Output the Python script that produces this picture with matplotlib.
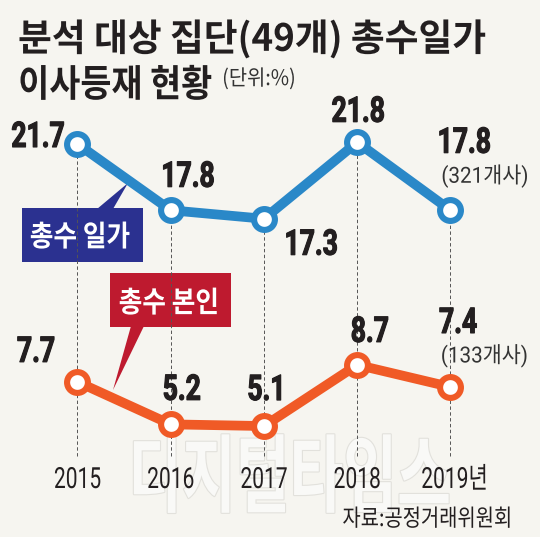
import matplotlib
matplotlib.use('Agg')
import matplotlib.pyplot as plt
import matplotlib.patheffects as pe
from matplotlib.patches import Polygon, Rectangle
from matplotlib.transforms import Affine2D, blended_transform_factory

# data
years = [2015, 2016, 2017, 2018, 2019]
year_labels = ['2015', '2016', '2017', '2018', '2019년']
family_share = [21.7, 17.8, 17.3, 21.8, 17.8]   # 총수 일가
owner_share = [7.7, 5.2, 5.1, 8.7, 7.4]         # 총수 본인
family_count = '(321개사)'
owner_count = '(133개사)'

# label offsets from marker centre to text baseline, in pixels (dx right, dy down)
family_offsets = [(-39.5, 3), (17, -23.5), (47, 36), (1, -20.5), (13.5, -57.5)]
owner_offsets = [(-41.5, -20), (11, -24.5), (3, -26), (12.5, -23), (7.5, -54)]

BG = '#f6f5f0'
BLUE = '#2a88c8'
ORANGE = '#f05a26'
NAVY = '#2b3190'
RED = '#be1a2f'
INK = '#231f20'
KR = ['Noto Sans CJK KR', 'DejaVu Sans']
NUM = ['Roboto', 'Noto Sans CJK KR', 'DejaVu Sans']


class Squeeze(pe.AbstractPathEffect):
    """draw text narrower, like the condensed face of the original"""

    def __init__(self, sx, anchor='center', stroke=None, lw=1.0):
        super().__init__()
        self.sx = sx
        self.anchor = anchor
        self.stroke = stroke
        self.lw = lw

    def draw_path(self, renderer, gc, tpath, affine, rgbFace=None):
        bb = tpath.get_extents(affine)
        if self.anchor == 'left':
            x0 = bb.x0
        elif self.anchor == 'right':
            x0 = bb.x1
        else:
            x0 = (bb.x0 + bb.x1) / 2
        t = affine + Affine2D().translate(-x0, 0).scale(self.sx, 1).translate(x0, 0)
        if self.stroke:
            gc0 = renderer.new_gc()
            gc0.copy_properties(gc)
            gc0.set_foreground(self.stroke)
            gc0.set_linewidth(self.lw)
            renderer.draw_path(gc0, tpath, t, rgbFace)
            gc0.restore()
        renderer.draw_path(gc, tpath, t, rgbFace)


W, H = 540, 537
fig = plt.figure(figsize=(W / 100, H / 100), dpi=100, facecolor=BG)

# pixel overlay for title, boxes, watermark
deco = fig.add_axes([0, 0, 1, 1], zorder=0)
deco.set_xlim(0, W)
deco.set_ylim(H, 0)
deco.axis('off')
deco.set_facecolor(BG)

ax = fig.add_axes([0, 0, 1, 1], zorder=1)
ax.patch.set_alpha(0)
ax.axis('off')
ax.set_xlim(2014.169, 2019.960)
ax.set_ylim(-1.43, 30.175)

xpix = blended_transform_factory(ax.transData, deco.transData)
px = 0.72  # pixels -> points

# watermark
deco.text(289, 480, '디지털타임스', family=KR, fontsize=61, fontweight='bold',
          color='#f9f9f7', ha='center', va='center', zorder=0,
          path_effects=[Squeeze(0.69, stroke='#e2e1dc', lw=1.6)])

# title
deco.text(18, 39, '분석 대상 집단(49개) 총수일가', family=KR, fontsize=27,
          fontweight='bold', color=INK, va='center', path_effects=[Squeeze(0.98, 'left')])
deco.text(18, 85, '이사등재 현황', family=KR, fontsize=27,
          fontweight='bold', color=INK, va='center', path_effects=[Squeeze(0.90, 'left')])
deco.text(222, 79, '(단위:%)', family=KR, fontsize=15.5, color='#333333', va='center',
          path_effects=[Squeeze(0.92, 'left')])

# dashed guides
ax.vlines(years, 3.34, family_share, colors='#555555', linestyles=(0, (3.5, 2.5)),
          linewidth=0.7, zorder=1)

ax.plot(years, family_share, color=BLUE, lw=7, marker='o', ms=15, mew=4.4,
        mfc='white', mec=BLUE, zorder=3)
ax.plot(years, owner_share, color=ORANGE, lw=7, marker='o', ms=15, mew=4.4,
        mfc='white', mec=ORANGE, zorder=3)

for series, offsets in [(family_share, family_offsets), (owner_share, owner_offsets)]:
    for x, v, (dx, dy) in zip(years, series, offsets):
        ax.annotate(f'{v}', (x, v), xytext=(dx * px, -dy * px), textcoords='offset points',
                    ha='center', va='baseline', family=NUM, fontsize=25.5,
                    fontweight='bold', color=INK, zorder=4,
                    path_effects=[Squeeze(0.75, stroke=INK, lw=0.8)])

ax.annotate(family_count, (years[-1], family_share[-1]), xytext=(34.5 * px, 34 * px),
            textcoords='offset points', ha='center', va='center', family=NUM,
            fontsize=16, color='#333333', path_effects=[Squeeze(0.93)])
ax.annotate(owner_count, (years[-1], owner_share[-1]), xytext=(34 * px, 31 * px),
            textcoords='offset points', ha='center', va='center', family=NUM,
            fontsize=16, color='#333333', path_effects=[Squeeze(0.93)])

for x, lab in zip(years, year_labels):
    ax.text(x + (0.045 if lab.endswith('년') else 0), 488, lab, transform=xpix,
            ha='center', va='baseline', family=NUM, fontsize=21, color=INK,
            path_effects=[Squeeze(0.72)])

# series name boxes
deco.add_patch(Rectangle((22, 208), 121, 54, facecolor=NAVY, edgecolor='none', zorder=5))
deco.add_patch(Polygon([(97, 209), (113, 209), (128, 183)], closed=True,
                       facecolor=NAVY, edgecolor='none', zorder=5))
deco.text(80, 237, '총수 일가', family=KR, fontsize=21, fontweight='bold',
          color='white', ha='center', va='center', zorder=6,
          path_effects=[Squeeze(0.88)])

deco.add_patch(Rectangle((110, 273), 121, 54, facecolor=RED, edgecolor='none', zorder=5))
deco.add_patch(Polygon([(131, 326), (144, 326), (113, 390)], closed=True,
                       facecolor=RED, edgecolor='none', zorder=5))
deco.text(169, 303, '총수 본인', family=KR, fontsize=21, fontweight='bold',
          color='white', ha='center', va='center', zorder=6,
          path_effects=[Squeeze(0.88)])

# source
deco.text(513, 519.5, '자료:공정거래위원회', family=KR, fontsize=17,
          color=INK, ha='right', va='center', path_effects=[Squeeze(0.84, 'right')])

fig.savefig('out.png', dpi=100, facecolor=BG)
